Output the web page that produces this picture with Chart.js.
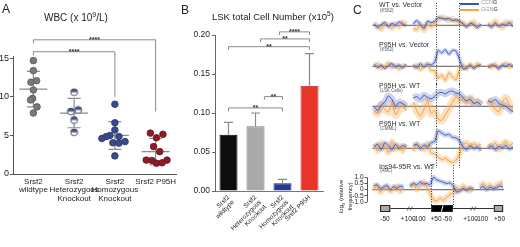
<!DOCTYPE html>
<html>
<head>
<meta charset="utf-8">
<script src="https://cdn.jsdelivr.net/npm/chart.js@4.4.0/dist/chart.umd.min.js"></script>
<style>
body { margin:0; background:#fff; width:520px; height:247px; position:relative; overflow:hidden; font-family:"Liberation Sans", Arial, sans-serif; }
canvas { position:absolute; }
.t { position:absolute; white-space:nowrap; line-height:1; color:#222; }
.sw { position:absolute; height:2px; }
</style>
</head>
<body>
<canvas id="chartA" width="200" height="247" style="left:0;top:0"></canvas>
<canvas id="chartB" width="160" height="247" style="left:178px;top:0"></canvas>
<canvas id="row1" width="146" height="42" style="left:367px;top:3px"></canvas>
<canvas id="row2" width="146" height="42" style="left:367px;top:44px"></canvas>
<canvas id="row3" width="146" height="42" style="left:367px;top:84px"></canvas>
<canvas id="row4" width="146" height="42" style="left:367px;top:126px"></canvas>
<canvas id="row5" width="168" height="61" style="left:345px;top:165px"></canvas>

<div class="t" style="left:2px;top:3px;font-size:12px">A</div>
<div class="t" style="left:44px;top:11px;font-size:10px">WBC (x 10<sup style="font-size:7px;vertical-align:4px">9</sup>/L)</div>
<div class="t" style="left:181px;top:4px;font-size:12px">B</div>
<div class="t" style="left:212px;top:11px;font-size:9.5px">LSK total Cell Number (x10<sup style="font-size:6.5px;vertical-align:4px">5</sup>)</div>
<div class="t" style="left:353px;top:4px;font-size:12px">C</div>

<div class="sw" style="left:460px;top:2.5px;width:19px;background:#3d55b0"></div>
<div class="t" style="left:481px;top:0px;font-size:5.5px;color:#999">CCN<b style="color:#666">G</b></div>
<div class="sw" style="left:460px;top:9px;width:19px;background:#f2a64a"></div>
<div class="t" style="left:481px;top:6.5px;font-size:5.5px;color:#999">GGN<b style="color:#666">G</b></div>

<div id="rowLabels"></div>
<div class="t" style="left:338px;top:213px;font-size:6px;transform:rotate(-90deg);transform-origin:0 0;text-align:center;line-height:1.1">log<sub style="font-size:4px">2</sub> (relative<br>frequency)</div>

<script>
// ---- panel A: WBC ----
const groupsA = [['Srsf2', 'wildtype'], ['Srsf2', 'Heterozygous', 'Knockout'], ['Srsf2', 'Homozygous', 'Knockout'], ['Srsf2 P95H']];
const wtValues = [14.7, 13.4, 12.1, 11.9, 10.9, 9.8, 9.6, 8.7, 7.9];
const wtSpread = [0, 0, 0.08, -0.06, 0, -0.02, -0.07, 0.09, 0];
const hetValues = [10.6, 8.3, 8.1, 7.0, 5.4];
const hetSpread = [0, 0.1, -0.08, 0, 0];
const homValues = [9.05, 6.65, 5.7, 5.0, 4.85, 4.85, 4.6, 4.2, 4.05, 4.0, 2.35];
const homSpread = [0, 0, 0, -0.12, -0.21, 0.1, -0.32, 0.25, -0.05, 0.1, 0];
const p95hValues = [5.3, 5.15, 4.7, 3.55, 2.9, 1.8, 1.75, 1.8, 1.45, 1.4];
const p95hSpread = [-0.13, 0.18, 0.02, -0.05, 0.1, -0.23, -0.09, 0.28, 0.16, 0.02];
const meanA = [11.0, 7.9, 5.0, 2.9];
const sdA = [2.3, 1.9, 1.8, 1.7];
const ticksA = [0, 5, 10, 15];
const bracketsA = [
    { from: 0, to: 3, at: 17.4, endL: 16.95, endR: 8.1, label: '****' },
    { from: 0, to: 2, at: 15.85, endL: 15.4, endR: 10.0, label: '****' }
];

// ---- panel B: LSK ----
const groupsB = [['Srsf2', 'wildtype'], ['Srsf2', 'Heterozygous', 'Knockout'], ['Srsf2', 'Homozygous', 'Knockout'], 'Srsf2 P95H'];
const lskMean = [0.072, 0.083, 0.010, 0.135];
const lskErr = [0.016, 0.017, 0.005, 0.041];
const bracketsB = [
    { from: 0, to: 2, at: 0.1065, endL: 0.102, endR: 0.102, label: '**' },
    { from: 1.33, to: 2, at: 0.121, endL: 0.117, endR: 0.117, label: '**' },
    { from: 0, to: 3, at: 0.185, endL: 0.181, endR: 0.181, label: '**' },
    { from: 1.19, to: 3, at: 0.195, endL: 0.191, endR: 0.191, label: '**' },
    { from: 1.89, to: 3, at: 0.204, endL: 0.2, endR: 0.2, label: '****' }
];

// ---- panel C: motif frequency around exon ----
const rowNames = ['WT vs. Vector', 'P95H vs. Vector', 'P95H vs. WT', 'P95H vs. WT', 'Ins94-95R vs. WT'];
const rowSamples = ['(K562)', '(K562)', '(LSK Cells)', '(CMML)', '(AML)'];
const ccngRow1 = [0.1, -0.15, 0.05, 0.2, -0.1, 0.15, 0.0, 0.25, 0.1, -0.05, null, 0.1, 0.35, 0.05, -0.2, 0.3, 0.2, 0.3, 0.55, 0.5, 0.45, 0.5, 0.35, 0.4, 0.3, 0.1, -0.1, 0.15, 0.05, -0.15, 0.1, null, 0.05, -0.1, 0.15, -0.05, 0.1, 0.0, 0.2, -0.1];
const ggngRow1 = [0.2, -0.1, -0.25, 0.1, 0.0, -0.2, 0.1, -0.1, 0.25, 0.05, null, -0.2, -0.3, 0.1, -0.35, 0.05, -0.1, 0.1, 0.4, 0.6, 0.5, 0.35, 0.45, 0.3, 0.2, 0.2, -0.05, 0.1, 0.25, -0.1, 0.05, null, 0.2, -0.1, 0.3, 0.0, -0.15, 0.25, 0.1, 0.3];
const ccngRow2 = [0.15, -0.1, 0.1, -0.15, 0.05, 0.2, -0.05, 0.1, -0.1, 0.15, null, 0.1, -0.1, 0.2, -0.05, 0.15, 0.1, 0.3, 1.15, 0.95, 1.2, 0.85, 1.15, 1.1, 0.5, -0.2, -0.1, 0.1, -0.15, 0.05, 0.1, null, -0.1, 0.1, 0.05, -0.15, 0.1, 0.0, 0.15, -0.05];
const ggngRow2 = [0.05, 0.2, -0.15, 0.0, 0.25, -0.1, 0.1, -0.2, 0.05, -0.05, null, -0.15, 0.1, -0.25, 0.05, 0.2, -0.3, -0.3, -0.85, -0.6, -1.0, -0.45, -0.75, -0.95, -0.2, 0.1, -0.2, 0.15, -0.1, 0.2, -0.05, null, 0.15, -0.1, 0.2, -0.2, 0.1, 0.25, -0.05, 0.15];
const ccngRow3 = [0.0, -0.3, 0.1, 0.3, 0.75, 0.5, 0.0, 0.3, 0.2, 0.0, null, 0.6, 0.7, 0.5, 0.8, 0.65, 0.55, 0.7, 0.95, 1.0, 0.9, 1.05, 1.1, 0.95, 0.9, 0.6, 0.4, 0.5, 0.2, 0.3, 0.1, null, 0.4, 0.3, 0.5, 0.2, 0.1, 0.0, -0.2, -0.4];
const ggngRow3 = [-0.3, -0.5, 0.1, -0.2, -0.4, 0.2, -0.6, -0.2, 0.1, -0.3, null, 0.3, -0.3, -0.7, -0.2, 0.4, -0.5, -0.3, -0.9, -1.0, -0.6, -0.2, 0.3, 0.7, 0.4, 0.5, 0.3, 0.6, 0.2, 0.35, 0.1, null, 0.5, 0.2, -0.2, -0.4, 0.3, 0.6, 0.1, -0.3];
const ccngRow4 = [0.1, 0.3, -0.1, 0.4, 0.2, -0.1, 0.3, 0.0, 0.2, 0.1, null, 0.2, 0.3, 0.0, 0.25, 0.1, 0.4, 0.5, 1.25, 1.1, 0.95, 1.0, 0.8, 0.75, 0.55, 0.1, -0.1, 0.2, 0.0, 0.1, -0.15, null, 0.0, 0.2, -0.1, 0.15, 0.05, 0.2, -0.05, 0.1];
const ggngRow4 = [0.3, -0.2, 0.4, 0.1, -0.3, 0.5, -0.1, 0.2, -0.2, 0.3, null, -0.2, 0.3, 0.1, -0.1, 0.35, -0.3, -0.4, -0.6, -0.8, -0.7, -0.9, -1.0, -0.85, -0.4, 0.3, 0.4, 0.1, 0.35, 0.2, 0.3, null, 0.3, 0.1, 0.4, -0.1, 0.3, 0.5, 0.2, 0.4];
const ccngRow5 = [0.3, 0.4, 0.1, 0.2, 0.35, 0.0, 0.25, 0.1, 0.3, 0.2, null, 0.3, 0.5, 0.4, 0.6, 0.45, 0.5, 0.4, 1.0, 0.8, 0.7, 0.6, 0.5, 0.55, 0.3, -0.2, -0.1, 0.1, -0.05, 0.15, 0.0, null, 0.1, 0.25, 0.0, 0.2, 0.1, 0.15, 0.3, 0.2];
const ggngRow5 = [0.0, 0.3, -0.2, 0.1, 0.2, -0.1, 0.0, 0.3, -0.15, 0.1, null, 0.2, 0.4, 0.0, 0.3, 0.6, 0.2, -0.3, -0.8, -0.9, -0.7, -0.85, -0.6, -0.4, -0.2, 0.2, 0.0, 0.3, 0.1, -0.1, 0.2, null, 0.3, 0.5, 0.2, 0.4, 0.1, 0.35, 0.5, 0.6];
const exonEdges = [17.4, 23.8];
const geneTicks = [3.4, 10.4, 13.7, 18.8, 22.2, 29.2, 32.5, 37.9];
const geneTickLabels = ['-50', '+100', '-100', '+50', '-50', '+100', '-100', '+50'];
const yTicksC = [-1, -0.5, 0, 0.5, 1];

const FONT = '"Liberation Sans", Arial, sans-serif';
Chart.defaults.font.family = FONT;
Chart.defaults.color = '#222';

function bracketPlugin(list) {
    return {
        id: 'brackets',
        afterDraw(chart) {
            const ctx = chart.ctx, x = chart.scales.x, y = chart.scales.y;
            ctx.save();
            ctx.strokeStyle = '#8a8a8a';
            ctx.lineWidth = 1;
            ctx.fillStyle = '#333';
            ctx.font = 'bold 7px ' + FONT;
            ctx.textAlign = 'center';
            list.forEach(b => {
                const x1 = x.getPixelForValue(b.from), x2 = x.getPixelForValue(b.to);
                const yy = y.getPixelForValue(b.at);
                ctx.beginPath();
                ctx.moveTo(x1, y.getPixelForValue(b.endL));
                ctx.lineTo(x1, yy);
                ctx.lineTo(x2, yy);
                ctx.lineTo(x2, y.getPixelForValue(b.endR));
                ctx.stroke();
                ctx.fillText(b.label, (x1 + x2) / 2, yy + 2.5);
            });
            ctx.restore();
        }
    };
}

// half filled marker for the heterozygous group
function halfDot(fill, edge) {
    const c = document.createElement('canvas');
    c.width = 9; c.height = 9;
    const g = c.getContext('2d');
    g.beginPath(); g.arc(4.5, 4.5, 3.4, 0, 2 * Math.PI); g.fillStyle = '#fff'; g.fill();
    g.beginPath(); g.arc(4.5, 4.5, 3.4, Math.PI, 2 * Math.PI); g.fillStyle = fill; g.fill();
    g.beginPath(); g.arc(4.5, 4.5, 3.4, 0, 2 * Math.PI); g.strokeStyle = edge; g.lineWidth = 0.9; g.stroke();
    return c;
}

function pts(values, spread, g) {
    return values.map((v, i) => ({ x: g + spread[i], y: v }));
}

const meanSdPlugin = {
    id: 'meanSd',
    beforeDatasetsDraw(chart) {
        const ctx = chart.ctx, x = chart.scales.x, y = chart.scales.y;
        ctx.save();
        ctx.strokeStyle = '#8c8c8c';
        ctx.lineWidth = 1.2;
        meanA.forEach((m, i) => {
            const cx = x.getPixelForValue(i);
            const ym = y.getPixelForValue(m), yt = y.getPixelForValue(m + sdA[i]), yb = y.getPixelForValue(m - sdA[i]);
            ctx.beginPath();
            ctx.moveTo(cx - 14, ym); ctx.lineTo(cx + 14, ym);
            ctx.moveTo(cx - 6.5, yt); ctx.lineTo(cx + 6.5, yt);
            ctx.moveTo(cx - 6.5, yb); ctx.lineTo(cx + 6.5, yb);
            ctx.moveTo(cx, yt); ctx.lineTo(cx, yb);
            ctx.stroke();
        });
        ctx.restore();
    }
};

new Chart(document.getElementById('chartA'), {
    type: 'scatter',
    data: {
        datasets: [
            { data: pts(wtValues, wtSpread, 0), backgroundColor: '#7a7a7a', borderColor: '#555', borderWidth: 0.8, pointRadius: 3.3 },
            { data: pts(hetValues, hetSpread, 1), pointStyle: halfDot('#4d5680', '#3a4266'), pointRadius: 3.3 },
            { data: pts(homValues, homSpread, 2), backgroundColor: '#3a4a8a', borderColor: '#2a3570', borderWidth: 0.8, pointRadius: 3.3 },
            { data: pts(p95hValues, p95hSpread, 3), backgroundColor: '#8b1c28', borderColor: '#6a121c', borderWidth: 0.8, pointRadius: 3.3 }
        ]
    },
    options: {
        responsive: false,
        animation: false,
        devicePixelRatio: 1,
        layout: { padding: { top: 56, right: 24 } },
        plugins: { legend: { display: false }, tooltip: { enabled: false } },
        scales: {
            x: {
                type: 'linear', min: -0.5, max: 3.5,
                afterBuildTicks: s => { s.ticks = [0, 1, 2, 3].map(v => ({ value: v })); },
                afterFit: s => { s.height = 73; },
                grid: { display: false, drawTicks: false },
                border: { color: '#555' },
                ticks: { padding: 3, minRotation: 0, maxRotation: 0, autoSkip: false, font: { size: 8, lineHeight: 1.1 }, color: '#222', callback: v => groupsA[v] }
            },
            y: {
                min: 0, max: 15.3,
                afterBuildTicks: s => { s.ticks = ticksA.map(v => ({ value: v })); },
                afterFit: s => { s.width = 13; },
                grid: { drawOnChartArea: false, tickLength: 3, color: '#555' },
                border: { color: '#555' },
                ticks: { padding: 1, font: { size: 9 }, color: '#222' }
            }
        }
    },
    plugins: [meanSdPlugin, bracketPlugin(bracketsA)]
});

const errorBarPlugin = {
    id: 'errorBars',
    afterDatasetsDraw(chart) {
        const ctx = chart.ctx, y = chart.scales.y;
        const bars = chart.getDatasetMeta(0).data;
        ctx.save();
        ctx.strokeStyle = '#8a8a8a';
        ctx.lineWidth = 1.2;
        bars.forEach((bar, i) => {
            const top = y.getPixelForValue(lskMean[i] + lskErr[i]);
            ctx.beginPath();
            ctx.moveTo(bar.x, bar.y); ctx.lineTo(bar.x, top);
            ctx.moveTo(bar.x - 4.5, top); ctx.lineTo(bar.x + 4.5, top);
            ctx.stroke();
        });
        ctx.restore();
    }
};

new Chart(document.getElementById('chartB'), {
    type: 'bar',
    data: {
        labels: groupsB,
        datasets: [{
            data: lskMean,
            backgroundColor: ['#0d0d0d', '#a9a9a9', '#26379a', '#e8352a'],
            borderColor: ['#000', '#7a7a7a', '#1a2570', '#c02a20'],
            borderWidth: 1,
            categoryPercentage: 1,
            barPercentage: 0.667
        }]
    },
    options: {
        responsive: false,
        animation: false,
        devicePixelRatio: 1,
        layout: { padding: { top: 35, right: 15 } },
        plugins: { legend: { display: false }, tooltip: { enabled: false } },
        scales: {
            x: {
                afterFit: s => { s.height = 56; },
                grid: { display: false, drawTicks: false },
                border: { color: '#777' },
                ticks: { minRotation: 45, maxRotation: 45, autoSkip: false, padding: 3, font: { size: 6.5, lineHeight: 1.05 }, color: '#222' }
            },
            y: {
                min: 0, max: 0.2,
                afterFit: s => { s.width = 37; },
                grid: { drawOnChartArea: false, tickLength: 3, color: '#666' },
                border: { color: '#666' },
                ticks: { stepSize: 0.05, padding: 2, font: { size: 8.5 }, color: '#222', callback: v => v.toFixed(2) }
            }
        }
    },
    plugins: [errorBarPlugin, bracketPlugin(bracketsB)]
});

// ---- panel C rows ----
const rowGuides = {
    id: 'rowGuides',
    beforeDatasetsDraw(chart) {
        const ctx = chart.ctx, x = chart.scales.x, y = chart.scales.y, a = chart.chartArea;
        ctx.save();
        ctx.strokeStyle = '#7a7a7a';
        ctx.lineWidth = 1.2;
        const y0 = y.getPixelForValue(0);
        ctx.beginPath(); ctx.moveTo(x.getPixelForValue(-0.5), y0); ctx.lineTo(a.right + 1, y0); ctx.stroke();
        ctx.restore();
    },
    afterDraw(chart) {
        const ctx = chart.ctx, x = chart.scales.x, a = chart.chartArea;
        ctx.save();
        ctx.strokeStyle = '#333';
        ctx.lineWidth = 1;
        ctx.setLineDash([1, 1.6]);
        exonEdges.forEach(e => {
            const px = Math.round(x.getPixelForValue(e)) + 0.5;
            ctx.beginPath(); ctx.moveTo(px, 0); ctx.lineTo(px, a.bottom); ctx.stroke();
        });
        ctx.restore();
    }
};

const geneDiagram = {
    id: 'geneDiagram',
    afterDraw(chart) {
        const ctx = chart.ctx, x = chart.scales.x, y = chart.scales.y, a = chart.chartArea;
        const cy = a.bottom + 1.5;
        const p = v => x.getPixelForValue(v);
        ctx.save();
        // left axis line only over -1..1
        ctx.strokeStyle = '#555'; ctx.lineWidth = 1;
        ctx.beginPath(); ctx.moveTo(a.left + 0.5, y.getPixelForValue(1)); ctx.lineTo(a.left + 0.5, y.getPixelForValue(-1)); ctx.stroke();
        // introns
        ctx.strokeStyle = '#333';
        ctx.beginPath(); ctx.moveTo(p(5.02), cy); ctx.lineTo(p(17.4), cy); ctx.moveTo(p(23.8), cy); ctx.lineTo(p(36.2), cy); ctx.stroke();
        // exons
        [[1.93, 5.02, '#a8a8a8'], [17.4, 23.8, '#000'], [36.2, 39, '#a8a8a8']].forEach(([f, t, c]) => {
            ctx.fillStyle = c; ctx.fillRect(p(f), cy - 3.5, p(t) - p(f), 7);
            ctx.strokeStyle = '#222'; ctx.strokeRect(p(f) + 0.5, cy - 3, p(t) - p(f) - 1, 6);
        });
        // breaks
        ctx.lineWidth = 0.8;
        [10.9, 30.0].forEach(b => {
            ctx.strokeStyle = '#333';
            ctx.beginPath();
            ctx.moveTo(p(b) - 2.5, cy + 2); ctx.lineTo(p(b) - 0.5, cy - 2);
            ctx.moveTo(p(b) + 0.5, cy + 2); ctx.lineTo(p(b) + 2.5, cy - 2);
            ctx.stroke();
        });
        ctx.strokeStyle = '#fff'; ctx.lineWidth = 1;
        ctx.beginPath(); ctx.moveTo(p(20.4), cy + 3); ctx.lineTo(p(20.9), cy - 3); ctx.stroke();
        ctx.restore();
    }
};

function rowChart(id, ccng, ggng, band, last) {
    const xy = arr => arr.map((v, i) => ({ x: i, y: v }));
    const line = (arr, color, w) => ({
        data: xy(arr), borderColor: color, borderWidth: w, pointRadius: 0, tension: 0.2, spanGaps: false, fill: false
    });
    const yScale = {
        min: -1.4, max: 1.6, display: !!last,
        grid: { drawOnChartArea: false, tickLength: 2.5, color: '#555' },
        border: { display: false },
        ticks: { padding: 1, autoSkip: false, font: { size: 6.5 }, color: '#222', callback: v => v === 0 ? '0' : v.toFixed(1) }
    };
    if (last) {
        yScale.afterBuildTicks = s => { s.ticks = yTicksC.map(v => ({ value: v })); };
        yScale.afterFit = s => { s.width = 22; };
    }
    const xScale = { type: 'linear', min: -2, max: 39, display: !!last };
    if (last) {
        xScale.afterBuildTicks = s => { s.ticks = geneTicks.map(v => ({ value: v })); };
        xScale.afterFit = s => { s.height = 19; };
        xScale.grid = { display: false, drawTicks: false };
        xScale.border = { display: false };
        xScale.ticks = { padding: 8, font: { size: 6.5 }, color: '#222', minRotation: 0, maxRotation: 0, autoSkip: false, callback: (v, i) => geneTickLabels[i] };
    }
    new Chart(document.getElementById(id), {
        type: 'line',
        data: {
            datasets: [
                line(ccng, '#3f56b3', 1),
                line(ggng, '#f0a040', 1),
                line(ccng, 'rgba(115,135,215,0.36)', band[0]),
                line(ggng, 'rgba(248,180,100,0.4)', band[1])
            ]
        },
        options: {
            responsive: false,
            animation: false,
            devicePixelRatio: 1,
            layout: { padding: 0 },
            plugins: { legend: { display: false }, tooltip: { enabled: false } },
            scales: { x: xScale, y: yScale }
        },
        plugins: last ? [rowGuides, geneDiagram] : [rowGuides]
    });
}

rowChart('row1', ccngRow1, ggngRow1, [4, 6]);
rowChart('row2', ccngRow2, ggngRow2, [4, 5]);
rowChart('row3', ccngRow3, ggngRow3, [7, 8]);
rowChart('row4', ccngRow4, ggngRow4, [5, 6]);
rowChart('row5', ccngRow5, ggngRow5, [5, 6], true);

// row captions
const captionTops = [[1, 8.5], [41, 47.5], [82, 89], [120, 126.5], [163, 169]];
const holder = document.getElementById('rowLabels');
rowNames.forEach((n, i) => {
    holder.insertAdjacentHTML('beforeend',
        '<div class="t" style="left:379px;top:' + captionTops[i][0] + 'px;font-size:7px;color:#333">' + n + '</div>' +
        '<div class="t" style="left:380px;top:' + captionTops[i][1] + 'px;font-size:4.5px;color:#555">' + rowSamples[i] + '</div>');
});
</script>
</body>
</html>
